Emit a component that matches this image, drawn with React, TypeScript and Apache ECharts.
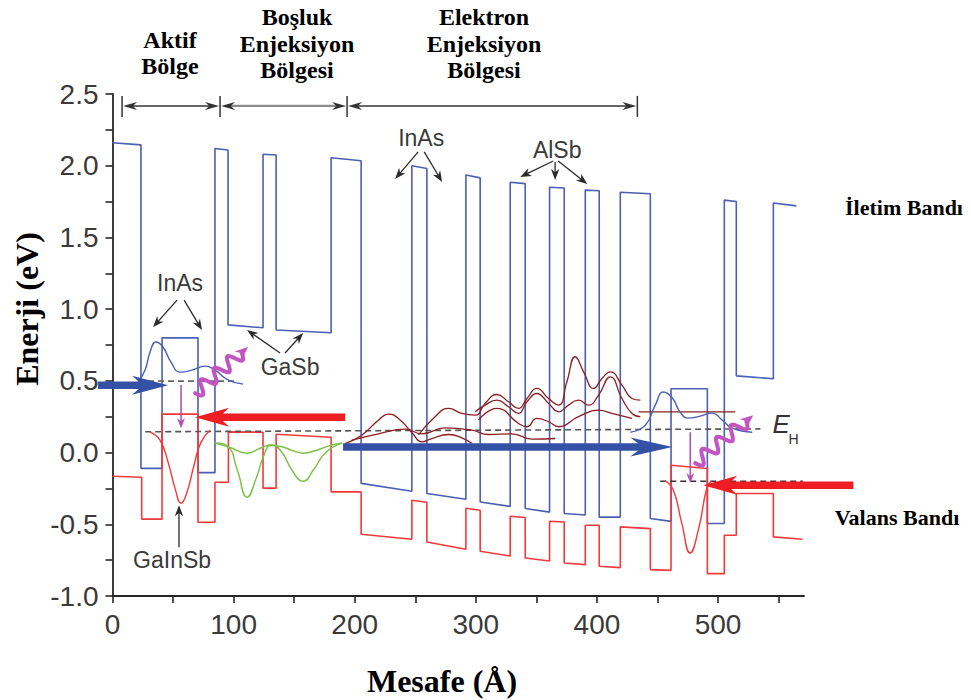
import React, { useEffect, useRef } from 'react';
import * as echarts from 'echarts';

// ---- axis ticks ----
const xTickValues = [0, 50, 100, 150, 200, 250, 300, 350, 400, 450, 500, 550];
const xLabelValues = [0, 100, 200, 300, 400, 500];
const yTickValues = [-1, -0.75, -0.5, -0.25, 0, 0.25, 0.5, 0.75, 1, 1.25, 1.5, 1.75, 2, 2.25, 2.5];
const yLabelValues = [-1, -0.5, 0, 0.5, 1, 1.5, 2, 2.5];
const X_MAX = 571;
const Y_MIN = -1;
const Y_MAX = 2.5;

// ---- band edges (x: Å, y: eV) ----
const conductionBand: number[][] = [
  [0, 2.16], [23.5, 2.145], [23.5, -0.11], [40.9, -0.11], [40.9, 0.8], [70.6, 0.8], [70.6, -0.14], [84.6, -0.14],
  [84.6, 2.12], [95.4, 2.11], [95.4, 0.89], [124.3, 0.87], [124.3, 2.08], [135.1, 2.075], [135.1, 0.855],
  [180.5, 0.835], [180.5, 2.055], [205.3, 2.035], [205.3, -0.215], [247.2, -0.27], [247.2, 2.0], [259.6, 1.98],
  [259.6, -0.285], [291.8, -0.325], [291.8, 1.935], [303.6, 1.915], [303.6, -0.345], [328.4, -0.375],
  [328.4, 1.885], [340.8, 1.875], [340.8, -0.39], [360.9, -0.415], [360.9, 1.85], [373.0, 1.845], [373.0, -0.425],
  [390.4, -0.435], [390.4, 1.83], [401.9, 1.825], [401.9, -0.45], [419.3, -0.45], [419.3, 1.815], [444.1, 1.805],
  [444.1, -0.46], [461.2, -0.48], [461.2, 0.445], [491.2, 0.445], [491.2, -0.495], [505.2, -0.495], [505.2, 1.76],
  [515.1, 1.75], [515.1, 0.535], [545.7, 0.515], [545.7, 1.74], [564.7, 1.72]
];
const valenceBand: number[][] = [
  [0, -0.165], [24.1, -0.172], [24.1, -0.464], [40.9, -0.464], [40.9, 0.268], [70.6, 0.268], [70.6, -0.486],
  [84.6, -0.486], [84.6, -0.207], [95.7, -0.207], [95.7, 0.144], [124.3, 0.142], [124.3, -0.248], [135.1, -0.248],
  [135.1, 0.128], [180.5, 0.107], [180.5, -0.274], [205.3, -0.274], [205.3, -0.569], [247.2, -0.604],
  [247.2, -0.332], [259.6, -0.346], [259.6, -0.623], [291.8, -0.674], [291.8, -0.388], [303.6, -0.402],
  [303.6, -0.688], [328.4, -0.721], [328.4, -0.444], [340.8, -0.453], [340.8, -0.735], [360.9, -0.756],
  [360.9, -0.479], [373.0, -0.484], [373.0, -0.77], [390.4, -0.781], [390.4, -0.507], [401.9, -0.507],
  [401.9, -0.793], [419.3, -0.802], [419.3, -0.518], [444.1, -0.53], [444.1, -0.816], [461.2, -0.821],
  [461.2, -0.088], [491.2, -0.111], [491.2, -0.844], [505.2, -0.844], [505.2, -0.576], [515.1, -0.576],
  [515.1, -0.285], [545.7, -0.285], [545.7, -0.588], [569.6, -0.604]
];

// ---- wavefunctions ----
const electronLeft: number[][] = [
  [20.2, 0.477], [26.9, 0.575], [31.0, 0.701], [35.9, 0.771], [41.7, 0.736], [48.3, 0.631], [55.8, 0.561],
  [65.7, 0.575], [76.4, 0.603], [84.7, 0.575], [95.4, 0.506], [107.8, 0.477]
];
const holeLeft: number[][] = [
  [31.0, 0.142], [39.2, 0.087], [45.9, -0.067], [51.6, -0.248], [56.6, -0.353], [61.5, -0.276], [67.3, -0.088],
  [73.1, 0.073], [80.6, 0.156]
];
const gasbHoleA: number[][] = [
  [84.7, 0.066], [95, 0.045], [103, -0.12], [111.1, -0.311], [119, -0.17], [125, -0.02], [131, 0.05], [140, 0.04],
  [150, 0.01], [157.4, -0.004], [168, 0.015], [180, 0.05], [189.6, 0.066]
];
const gasbHoleB: number[][] = [
  [84.7, 0.066], [97, 0.035], [111.1, -0.004], [122, 0.03], [131, 0.055], [140, 0.0], [148, -0.12], [157.4, -0.2],
  [166, -0.12], [176, 0.0], [189.6, 0.066]
];
const injector1: number[][] = [
  [192.1, 0.063], [205.8, 0.121], [219.6, 0.226], [227.9, 0.268], [236.1, 0.238], [247.2, 0.14], [255.4, 0.075],
  [263.7, 0.098], [277.5, 0.126], [288.4, 0.103], [296.9, 0.063]
];
const injector2: number[][] = [
  [197.6, 0.087], [219.6, 0.131], [241.7, 0.163], [255.4, 0.131], [274.7, 0.172], [296.8, 0.156], [310.5, 0.126],
  [329.8, 0.131], [346.3, 0.094], [365.6, 0.098]
];
const injector3: number[][] = [
  [252.7, 0.124], [266.4, 0.25], [277.5, 0.308], [288.4, 0.273], [299.5, 0.261], [307.7, 0.343], [317.4, 0.405],
  [327.0, 0.354], [335.3, 0.308], [342.2, 0.377], [350.4, 0.447], [360.1, 0.377], [368.4, 0.331], [375.2, 0.494],
  [382.1, 0.668], [389.0, 0.563], [397.3, 0.447], [404.2, 0.517], [411.1, 0.563], [420.7, 0.47], [429.0, 0.377],
  [435.9, 0.366]
];
const injector4: number[][] = [
  [299.5, 0.284], [307.7, 0.331], [317.4, 0.366], [327.0, 0.319], [335.3, 0.273], [342.2, 0.354], [350.4, 0.412],
  [360.1, 0.343], [368.4, 0.284], [376.6, 0.331], [384.8, 0.366], [393.1, 0.331], [401.4, 0.401], [411.1, 0.528],
  [420.7, 0.377], [429.0, 0.273], [435.9, 0.25]
];
const injector5: number[][] = [
  [302.2, 0.227], [317.4, 0.308], [335.3, 0.203], [342.2, 0.18], [350.4, 0.238], [360.1, 0.215], [368.4, 0.18],
  [384.8, 0.25], [401.4, 0.296], [412.4, 0.273], [429.0, 0.238]
];
const injectorLevel: number[][] = [[434.4, 0.284], [514.3, 0.284]];
const electronRight: number[][] = [
  [427.6, 0.142], [440.0, 0.191], [448.2, 0.331], [454.8, 0.422], [462.3, 0.38], [468.8, 0.282], [475.4, 0.24],
  [485.3, 0.254], [495.2, 0.275], [503.5, 0.226], [511.7, 0.17], [528.3, 0.142]
];
const holeRight: number[][] = [
  [456, -0.195], [463, -0.26], [470, -0.49], [477, -0.7], [484, -0.53], [491, -0.24], [495, -0.2]
];

// ---- reference levels ----
const levelLeft: number[][] = [[29.3, 0.498], [102.6, 0.498]];
const levelQuasiFermi: number[][] = [[27, 0.145], [535, 0.165]];
const levelRight: number[][] = [[452.3, -0.2], [570, -0.2]];

// ---- annotation anchors (data coords) ----
const thickArrows = [
  { from: [-12.0, 0.47], to: [45.9, 0.47], color: '#3551a6', head: 36 },
  { from: [192.1, 0.247], to: [68.2, 0.247], color: '#ee1d23', head: 34 },
  { from: [190.4, 0.038], to: [462.3, 0.038], color: '#3551a6', head: 42 },
  { from: [611.8, -0.228], to: [487.8, -0.228], color: '#ee1d23', head: 34 }
];
const labelArrows = [
  { from: [53.3, 1.063], to: [33.5, 0.875] }, { from: [59.1, 1.063], to: [73.9, 0.854] },
  { from: [138.4, 0.694], to: [111.1, 0.854] }, { from: [142.5, 0.694], to: [157.4, 0.833] },
  { from: [54.9, -0.66], to: [54.9, -0.367] },
  { from: [252.4, 2.096], to: [233.4, 1.908] }, { from: [257.4, 2.096], to: [272.2, 1.887] },
  { from: [363.9, 2.033], to: [336.7, 1.922] }, { from: [365.5, 2.026], to: [365.5, 1.901] },
  { from: [368.0, 2.033], to: [392.0, 1.873] }
];
const labels = [
  { text: 'InAs', at: [55.8, 1.183] }, { text: 'GaSb', at: [146.6, 0.597] }, { text: 'GaInSb', at: [49.2, -0.751] },
  { text: 'InAs', at: [254.9, 2.194] }, { text: 'AlSb', at: [367.2, 2.11] }
];
const transitions = [
  { from: [56.6, 0.471], to: [56.6, 0.17] }, { from: [477.1, 0.142], to: [477.1, -0.213] }
];
const photons = [
  { from: [68.2, 0.414], to: [111.9, 0.736] }, { from: [481.2, -0.074], to: [529.1, 0.261] }
];
const regionBounds = [7.9, 88.8, 193.7, 433.4];
const regionBarY = 2.417;

const BLUE = '#4b5fb4';
const RED = '#f23a3a';
const MAROON = '#8b1f1f';
const GREEN = '#7cc24a';
const AXIS = '#262626';

function line(data: number[][], color: string, width: number, extra: any = {}) {
  return {
    type: 'line', data, symbol: 'none', showSymbol: false, silent: true, clip: false,
    lineStyle: { color, width, ...(extra.lineStyle || {}) }, smooth: extra.smooth ?? false, z: extra.z ?? 2
  };
}

export default function App() {
  const ref = useRef<HTMLDivElement>(null);
  useEffect(() => {
    document.body.style.margin = '0';
    const chart = echarts.init(ref.current!, null, { renderer: 'svg' });
    const axisText = { fontFamily: '"Liberation Sans", Arial, sans-serif', fontSize: 28, color: '#3a3a3a' };
    chart.setOption({
      animation: false,
      grid: { left: 112.5, top: 94, width: 691.5, height: 502 },
      xAxis: {
        type: 'value', min: 0, max: X_MAX, position: 'bottom',
        axisLine: { show: true, onZero: false, lineStyle: { color: AXIS, width: 1.8 } },
        axisTick: { show: true, length: 7, lineStyle: { color: AXIS, width: 1.6 }, customValues: xTickValues },
        axisLabel: { ...axisText, margin: 14, customValues: xLabelValues, formatter: (v: number) => String(v) },
        splitLine: { show: false }
      },
      yAxis: {
        type: 'value', min: Y_MIN, max: Y_MAX, position: 'left',
        axisLine: { show: true, onZero: false, lineStyle: { color: AXIS, width: 1.8 } },
        axisTick: { show: true, length: 7, lineStyle: { color: AXIS, width: 1.6 }, customValues: yTickValues },
        axisLabel: { ...axisText, margin: 14, customValues: yLabelValues, formatter: (v: number) => v.toFixed(1) },
        splitLine: { show: false }
      },
      series: [
        line(conductionBand, BLUE, 1.6),
        line(valenceBand, RED, 1.6),
        line(levelLeft, '#666', 1.6, { lineStyle: { type: [6, 4] } }),
        line(levelQuasiFermi, '#555', 1.6, { lineStyle: { type: [6, 4] } }),
        line(levelRight, '#333', 1.4, { lineStyle: { type: [6, 4] } }),
        line(electronLeft, BLUE, 1.4, { smooth: 0.5 }),
        line(holeLeft, RED, 1.4, { smooth: 0.5 }),
        line(gasbHoleA, GREEN, 1.5, { smooth: 0.5 }),
        line(gasbHoleB, GREEN, 1.5, { smooth: 0.5 }),
        line(injector1, MAROON, 1.3, { smooth: 0.5 }),
        line(injector2, MAROON, 1.3, { smooth: 0.5 }),
        line(injector3, MAROON, 1.3, { smooth: 0.5 }),
        line(injector4, MAROON, 1.3, { smooth: 0.5 }),
        line(injector5, MAROON, 1.3, { smooth: 0.5 }),
        line(injectorLevel, MAROON, 1.3),
        line(electronRight, BLUE, 1.4, { smooth: 0.5 }),
        line(holeRight, RED, 1.4, { smooth: 0.5 })
      ]
    });

    const P = (p: number[]) => chart.convertToPixel({ xAxisIndex: 0, yAxisIndex: 0 }, p) as number[];
    const els: any[] = [];

    const head = (tip: number[], ux: number, uy: number, hl: number, hh: number, color: string, z = 60) => {
      const nx = -uy, ny = ux;
      const bx = tip[0] - ux * hl, by = tip[1] - uy * hl;
      els.push({
        type: 'polygon', z, silent: true,
        shape: { points: [[tip[0], tip[1]], [bx + nx * hh, by + ny * hh], [tip[0] - ux * hl * 0.7, tip[1] - uy * hl * 0.7], [bx - nx * hh, by - ny * hh]] },
        style: { fill: color }
      });
    };

    // thick arrows
    thickArrows.forEach((a) => {
      const p0 = P(a.from), p1 = P(a.to);
      const dx = p1[0] - p0[0], dy = p1[1] - p0[1];
      const L = Math.hypot(dx, dy), ux = dx / L, uy = dy / L;
      const end = [p1[0] - ux * a.head * 0.6, p1[1] - uy * a.head * 0.6];
      els.push({ type: 'line', z: 60, silent: true, shape: { x1: p0[0], y1: p0[1], x2: end[0], y2: end[1] }, style: { stroke: a.color, lineWidth: 7.5 } });
      head(p1, ux, uy, a.head, 9.5, a.color);
    });

    // thin label arrows
    labelArrows.forEach((a) => {
      const p0 = P(a.from), p1 = P(a.to);
      const dx = p1[0] - p0[0], dy = p1[1] - p0[1];
      const L = Math.hypot(dx, dy), ux = dx / L, uy = dy / L;
      els.push({ type: 'line', z: 55, silent: true, shape: { x1: p0[0], y1: p0[1], x2: p1[0] - ux * 6, y2: p1[1] - uy * 6 }, style: { stroke: '#2b2b2b', lineWidth: 1.3 } });
      head(p1, ux, uy, 11, 4.2, '#2b2b2b', 55);
    });

    labels.forEach((l) => {
      const p = P(l.at);
      els.push({ type: 'text', z: 55, silent: true, x: p[0], y: p[1], style: { text: l.text, fill: '#3a3a3a', fontSize: 23, fontFamily: '"Liberation Sans", Arial, sans-serif', align: 'center', verticalAlign: 'middle' } });
    });

    // transitions (magenta thin arrows)
    transitions.forEach((a) => {
      const p0 = P(a.from), p1 = P(a.to);
      els.push({ type: 'line', z: 56, silent: true, shape: { x1: p0[0], y1: p0[1], x2: p1[0], y2: p1[1] - 6 }, style: { stroke: '#b452b4', lineWidth: 1.6 } });
      head(p1, 0, 1, 10, 4, '#b452b4', 56);
    });

    // photons (squiggles)
    photons.forEach((a) => {
      const p0 = P(a.from), p1 = P(a.to);
      const dx = p1[0] - p0[0], dy = p1[1] - p0[1];
      const L = Math.hypot(dx, dy), ux = dx / L, uy = dy / L, nx = -uy, ny = ux;
      const pts: number[][] = [];
      const n = 90;
      for (let i = 0; i <= n; i++) {
        const t = i / n;
        const off = 6.5 * Math.sin(2 * Math.PI * 3.5 * t);
        pts.push([p0[0] + dx * t * 0.88 + nx * off, p0[1] + dy * t * 0.88 + ny * off]);
      }
      els.push({ type: 'polyline', z: 57, silent: true, shape: { points: pts }, style: { stroke: '#c355c3', lineWidth: 4, fill: null, lineCap: 'round', lineJoin: 'round' } });
      head(p1, ux, uy, 13, 5.5, '#c355c3', 57);
    });

    // region dimension bar
    const segColors = ['#333', '#8a8a8a', '#333'];
    const bx = regionBounds.map((x) => P([x, regionBarY]));
    bx.forEach((p) => {
      els.push({ type: 'line', z: 50, silent: true, shape: { x1: p[0], y1: p[1] - 10, x2: p[0], y2: p[1] + 11 }, style: { stroke: '#333', lineWidth: 1.5 } });
    });
    for (let i = 0; i < bx.length - 1; i++) {
      const a = bx[i], b = bx[i + 1];
      els.push({ type: 'line', z: 50, silent: true, shape: { x1: a[0] + 8, y1: a[1], x2: b[0] - 8, y2: b[1] }, style: { stroke: segColors[i], lineWidth: i === 1 ? 2.2 : 1.5 } });
      head([a[0] + 1, a[1]], -1, 0, 14, 4, '#333', 51);
      head([b[0] - 1, b[1]], 1, 0, 14, 4, '#333', 51);
    }

    // E_H label
    const eh = P([545, 0.156]);
    els.push({ type: 'text', z: 55, silent: true, x: eh[0], y: eh[1] - 6, style: { text: 'E', fill: '#333', fontSize: 26, fontStyle: 'italic', fontFamily: '"Liberation Sans", Arial, sans-serif', align: 'left', verticalAlign: 'middle' } });
    els.push({ type: 'text', z: 55, silent: true, x: eh[0] + 16, y: eh[1] + 9, style: { text: 'H', fill: '#333', fontSize: 14, fontFamily: '"Liberation Sans", Arial, sans-serif', align: 'left', verticalAlign: 'middle' } });

    // titles and region names
    const serifBold = { fontFamily: '"Liberation Serif", "Times New Roman", serif', fontWeight: 'bold', fill: '#000' };
    els.push({ type: 'text', z: 50, silent: true, x: 170, y: 52.5, style: { ...serifBold, text: 'Aktif\nBölge', fontSize: 24, lineHeight: 26, align: 'center', verticalAlign: 'middle' } });
    els.push({ type: 'text', z: 50, silent: true, x: 297, y: 43.5, style: { ...serifBold, text: 'Boşluk\nEnjeksiyon\nBölgesi', fontSize: 24, lineHeight: 26.5, align: 'center', verticalAlign: 'middle' } });
    els.push({ type: 'text', z: 50, silent: true, x: 484, y: 43.5, style: { ...serifBold, text: 'Elektron\nEnjeksiyon\nBölgesi', fontSize: 24, lineHeight: 26.5, align: 'center', verticalAlign: 'middle' } });
    els.push({ type: 'text', z: 50, silent: true, x: 904, y: 207, style: { ...serifBold, text: 'İletim Bandı', fontSize: 22, align: 'center', verticalAlign: 'middle' } });
    els.push({ type: 'text', z: 50, silent: true, x: 897, y: 517, style: { ...serifBold, text: 'Valans Bandı', fontSize: 22, align: 'center', verticalAlign: 'middle' } });
    els.push({ type: 'text', z: 50, silent: true, x: 442, y: 681, style: { ...serifBold, text: 'Mesafe (Å)', fontSize: 32, align: 'center', verticalAlign: 'middle' } });
    els.push({ type: 'text', z: 50, silent: true, x: 27, y: 309, rotation: Math.PI / 2, style: { ...serifBold, text: 'Enerji (eV)', fontSize: 32, align: 'center', verticalAlign: 'middle' } });

    chart.setOption({ graphic: els });
    return () => chart.dispose();
  }, []);
  return <div ref={ref} style={{ position: 'absolute', left: 0, top: 0, width: 971, height: 700 }} />;
}
